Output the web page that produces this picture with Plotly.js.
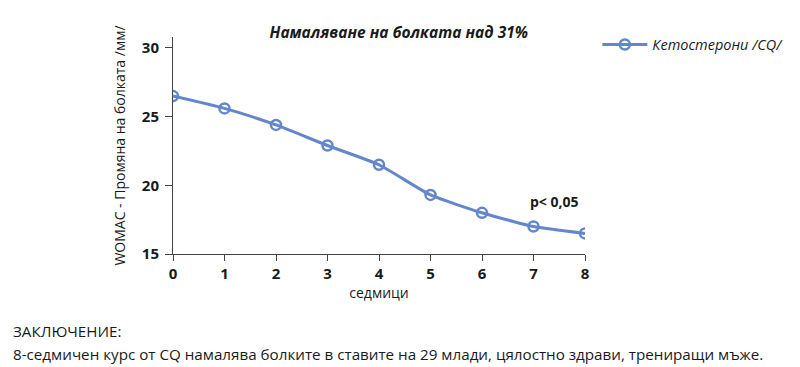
<!DOCTYPE html>
<html><head><meta charset="utf-8">
<script src="https://cdn.plot.ly/plotly-3.0.1.min.js"></script>
<style>body{margin:0;background:#fff}#c{width:800px;height:367px}</style>
</head><body><div id="c"></div>
<script>
const weeks = [0, 1, 2, 3, 4, 5, 6, 7, 8];
const painValues = [26.5, 25.6, 24.4, 22.9, 21.5, 19.3, 18.0, 17.0, 16.5];
const seriesName = 'Кетостерони /CQ/';
const yTicks = [15, 20, 25, 30];
const xTicks = [0, 1, 2, 3, 4, 5, 6, 7, 8];
const lineColor = 'rgb(100,134,204)';
const textColor = '#1a1a1a';
const font = 'Open Sans, Lato, sans-serif';

const trace = {
  x: weeks, y: painValues, name: seriesName, type: 'scatter', mode: 'lines+markers',
  line: {color: lineColor, width: 3, shape: 'spline', smoothing: 0.5},
  marker: {symbol: 'circle-open', size: 10, color: lineColor, line: {width: 2.5, color: lineColor}}
};

const layout = {
  width: 800, height: 367,
  margin: {l: 173, r: 213, t: 37, b: 113},
  paper_bgcolor: '#fff', plot_bgcolor: '#fff',
  font: {family: font, color: textColor},
  showlegend: true,
  legend: {x: 1.03, y: 0.965, xanchor: 'left', yanchor: 'middle', bgcolor: 'rgba(0,0,0,0)', itemwidth: 45,
    font: {family: font, size: 14.5, color: textColor, style: 'italic'}},
  title: {text: '<b><i>Намаляване на болката над 31%</i></b>', x: 0.548, xanchor: 'center', xref: 'paper', y: 0.91, yanchor: 'middle',
    font: {family: font, size: 15.5, color: textColor}},
  xaxis: {range: [0, 8], tickvals: xTicks, ticks: 'outside', ticklen: 6, tickcolor: '#444', tickwidth: 1,
    showline: true, linecolor: '#444', linewidth: 1, showgrid: false, zeroline: false,
    tickfont: {family: font, size: 15, weight: 'bold', color: textColor},
    title: {text: 'седмици', font: {family: font, size: 14, color: textColor}, standoff: 6}},
  yaxis: {range: [15, 30.8], tickvals: yTicks, ticks: 'outside', ticklen: 7, tickcolor: '#444', tickwidth: 1,
    ticklabelstandoff: 3,
    showline: true, linecolor: '#444', linewidth: 1, showgrid: false, zeroline: false,
    tickfont: {family: font, size: 15, weight: 'bold', color: textColor},
    title: {text: 'WOMAC - Промяна на болката /мм/', font: {family: font, size: 14, color: textColor}, standoff: 12}},
  annotations: [
    {x: 7.4, y: 18.8, xref: 'x', yref: 'y', text: '<b>p< 0,05</b>', showarrow: false,
      font: {family: font, size: 14, color: textColor}},
    {x: 10, y: 331, xref: 'paper', yref: 'paper', text: 'ЗАКЛЮЧЕНИЕ:', showarrow: false, xanchor: 'left', yanchor: 'middle',
      font: {family: font, size: 15.2, color: textColor}},
    {x: 10, y: 354, xref: 'paper', yref: 'paper', text: '8-седмичен курс от CQ намалява болките в ставите на 29 млади, цялостно здрави, трениращи мъже.', showarrow: false, xanchor: 'left', yanchor: 'middle',
      font: {family: font, size: 15.2, color: textColor}}
  ]
};
// convert pixel positions of footer annotations into paper coords
const pw = 800 - 173 - 213, ph = 367 - 37 - 113;
layout.annotations.slice(1).forEach(a => { a.x = (a.x - 173) / pw; a.y = (367 - 113 - a.y) / ph; });

Plotly.newPlot('c', [trace], layout, {displayModeBar: false, staticPlot: true});
</script></body></html>
